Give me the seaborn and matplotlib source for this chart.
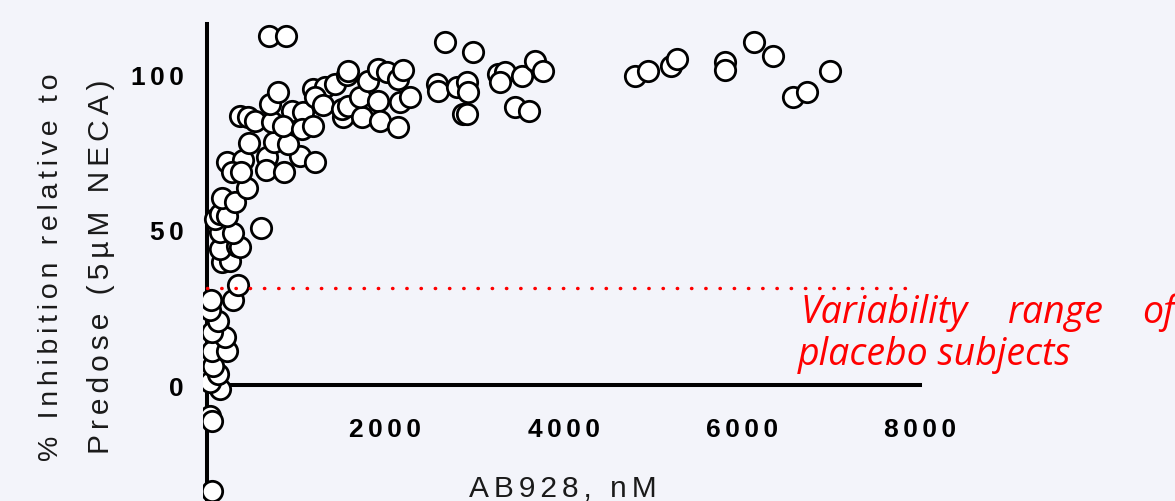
import matplotlib
matplotlib.use("Agg")
import matplotlib.pyplot as plt
import seaborn as sns
import pandas as pd

# ---------------- data ----------------
conc_nM = [54, 31, 54, 144, 31, 121, 65, 54, 222, 200, 54, 121, 31, 43, 290, 346,
           166, 256, 144, 334, 368, 144, 290, 88, 144, 222, 604, 166, 312, 447,
           222, 402, 278, 379, 671, 469, 750, 660, 862, 1041, 1210, 907,
           368, 458, 536, 727, 705, 795, 952, 1075, 851, 1064, 1187, 1187, 1322,
           1434, 1210, 1300, 1524, 1513, 1580, 1569, 1580, 1737, 1715, 1805, 1917,
           2018, 1917, 1939, 2141, 2141, 2164, 2197, 2276, 2579, 2590, 2669, 2804,
           2916, 2927, 2871, 2916, 2983, 3264, 3342, 3286, 3533, 3679, 3769, 3455,
           3612, 694, 884,
           4801, 4947, 5205, 5273, 5811, 5811, 6137, 6350, 6575, 6732, 6990]
inhibition = [-34.1, -10.0, -11.6, -1.3, 1.0, 3.5, 6.1, 10.9, 10.9, 15.5, 17.1, 20.6,
              24.1, 27.4, 27.4, 32.2, 39.6, 39.9, 43.8, 44.7, 44.4, 49.3, 48.9, 53.4,
              55.0, 54.4, 50.5, 60.2, 58.9, 63.4, 71.8, 72.4, 68.6, 68.6, 73.4, 77.9,
              78.2, 69.2, 68.6, 73.7, 71.8, 77.6,
              86.6, 86.3, 85.0, 84.7, 90.5, 94.3, 88.2, 87.9, 83.4, 82.4, 83.4, 95.3,
              95.9, 96.9, 92.7, 90.1, 86.3, 88.8, 89.8, 99.8, 101.1, 86.3, 92.7, 97.9,
              101.7, 100.8, 91.4, 85.0, 98.5, 83.0, 91.1, 101.4, 92.7, 96.9, 94.6,
              110.4, 95.9, 97.5, 94.3, 87.2, 87.2, 107.2, 100.1, 100.8, 97.5, 99.5,
              104.3, 101.1, 89.5, 88.2, 112.3, 112.3,
              99.5, 101.1, 102.7, 104.9, 104.0, 101.4, 110.4, 105.9, 92.7, 94.3, 101.1]

placebo_limit = 31.2          # upper bound of placebo variability (%)
placebo_line_end = 7865       # nM, end of the dotted line

x_ticks = [2000, 4000, 6000, 8000]
x_tick_labels = ["2000", "4000", "6000", "8000"]
y_ticks = [0, 50, 100]
y_tick_labels = ["0", "50", "100"]

x_label = "AB928, nM"
y_label_lines = ["% Inhibition relative to", "Predose (5\u00b5M NECA)"]
note_line1 = ["Variability", "range", "of"]
note_line2 = "placebo subjects"

df = pd.DataFrame({"conc": conc_nM, "inh": inhibition})

# ---------------- styling ----------------
sns.set_style("white")
plt.rcParams["font.family"] = ["Liberation Sans", "DejaVu Sans"]

BG = "#f3f4fa"
W, H = 1175, 502


def spaced(s, n=1):
    return ("\u200a" * n).join(s)


fig = plt.figure(figsize=(W / 100, H / 100), dpi=100)
fig.patch.set_facecolor(BG)

x0_px = 207.2
px_per_unit = 0.0891
left_px = 203.0
xmin = -(x0_px - left_px) / px_per_unit
xmax = (W - x0_px) / px_per_unit
ax = fig.add_axes([left_px / W, 0, (W - left_px) / W, 1])
ax.set_facecolor(BG)

sns.scatterplot(data=df, x="conc", y="inh", ax=ax, s=215, color="white",
                edgecolor="black", linewidth=2.0, zorder=3, legend=False)

ax.plot([0, placebo_line_end], [placebo_limit, placebo_limit], color="#ff0000",
        lw=2.5, linestyle=(0, (0.1, 4.0)), dash_capstyle="round", zorder=4)

ax.set_xlim(xmin, xmax)
ax.set_ylim(-37.3, 124.2)

for side in ["top", "right"]:
    ax.spines[side].set_visible(False)
ax.spines["left"].set_position(("data", 0))
ax.spines["left"].set_bounds(-37.3, 116.2)
ax.spines["bottom"].set_position(("data", 0))
ax.spines["bottom"].set_bounds(0, 8000)
for side in ["left", "bottom"]:
    ax.spines[side].set_linewidth(2.9)
    ax.spines[side].set_color("black")

ax.set_xticks(x_ticks)
ax.set_xticklabels([spaced(t, 2) for t in x_tick_labels])
ax.set_yticks(y_ticks)
ax.set_yticklabels([spaced(t, 2) for t in y_tick_labels])
ax.tick_params(axis="both", direction="out", length=10, width=2.9, color="black",
               labelsize=19, labelcolor="black")
ax.tick_params(axis="x", pad=13)
ax.tick_params(axis="y", pad=7)
for lab in ax.get_xticklabels() + ax.get_yticklabels():
    lab.set_fontweight("bold")
ax.set_xlabel("")
ax.set_ylabel("")

# axis titles
fig.text(563 / W, 1 - 497 / H, spaced(x_label, 2), ha="center", va="baseline",
         fontsize=21.5, color="#1a1a1a")
for xpx, line, fs in zip([51, 101], y_label_lines, [20.5, 21.5]):
    fig.text(xpx / W, 1 - 267 / H, spaced(line, 2), rotation=90, ha="center",
             va="center", fontsize=fs, color="#1a1a1a")

# red annotation
red_font = dict(fontsize=27, color="#ff0000", style="italic",
                family=["Open Sans", "DejaVu Sans"])
for xpx, word in zip([800, 1008, 1142], note_line1):
    fig.text(xpx / W, 1 - 323 / H, word, ha="left", va="baseline", **red_font)
fig.text(798 / W, 1 - 365 / H, note_line2, ha="left", va="baseline", **red_font)

fig.savefig("out.png", dpi=100, facecolor=BG)
